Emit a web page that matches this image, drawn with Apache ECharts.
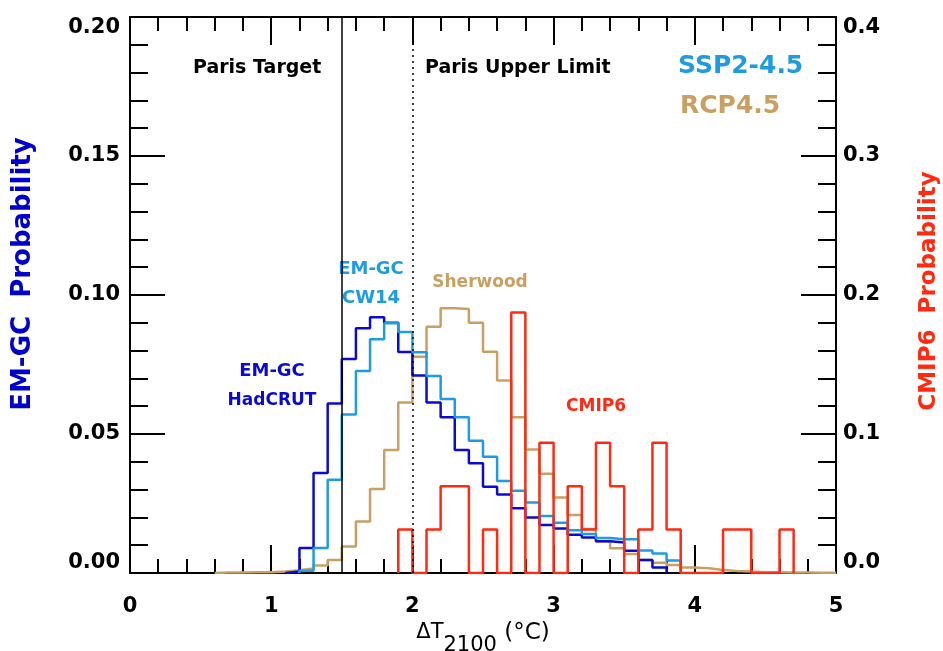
<!DOCTYPE html>
<html>
<head>
<meta charset="utf-8">
<script src="https://cdn.jsdelivr.net/npm/echarts@6/dist/echarts.min.js"></script>
<style>html,body{margin:0;padding:0;background:#fff}#c{width:943px;height:651px}</style>
</head>
<body>
<div id="c"></div>
<script>
// ---- data (bin width 0.1 °C; each array starts at the given bin start) ----
const binWidth = 0.1;
const hadcrutStart = 1.1;
const hadcrut = [0.0005, 0.009, 0.036, 0.061, 0.077, 0.088, 0.092, 0.090, 0.0795, 0.071, 0.0613, 0.056, 0.0442, 0.0395, 0.031, 0.0282, 0.0233, 0.020, 0.0173, 0.016, 0.0138, 0.0128, 0.0114, 0.011, 0.008, 0.0047, 0.002];
const cw14Start = 1.2;
const cw14 = [0.0008, 0.009, 0.0335, 0.057, 0.0727, 0.0841, 0.0898, 0.0867, 0.0794, 0.0709, 0.0626, 0.056, 0.0476, 0.0418, 0.0331, 0.0296, 0.0254, 0.0205, 0.0181, 0.0154, 0.014, 0.0126, 0.0121, 0.0121, 0.0081, 0.007, 0.0045];
const sherwoodStart = 0.6;
const sherwood = [0.0002, 0.0002, 0.0003, 0.0003, 0.0005, 0.001, 0.0016, 0.0027, 0.0047, 0.0095, 0.0185, 0.0302, 0.0442, 0.0613, 0.0778, 0.0886, 0.0952, 0.095, 0.090, 0.0796, 0.0692, 0.056, 0.0444, 0.0357, 0.0272, 0.0209, 0.0158, 0.0113, 0.0089, 0.0068, 0.0047, 0.0037, 0.0029, 0.002, 0.0017, 0.0011, 0.0007, 0.0005, 0.0003, 0.0003, 0.0002, 0.0002, 0.0001, 0.0001];
const cmip6Start = 1.9;
const cmip6 = [0.03125, 0, 0.03125, 0.0625, 0.0625, 0, 0.03125, 0, 0.1875, 0, 0.09375, 0, 0.0625, 0.03125, 0.09375, 0.0625, 0, 0.03125, 0.09375, 0.03125, 0, 0, 0, 0.03125, 0.03125, 0, 0, 0.03125];
const parisTarget = 1.5;
const parisUpper = 2.0;

const C_DARK = '#0A0AD2', C_LIGHT = '#1E9BE3', C_TAN = '#C8A062', C_RED = '#FF2A10';
const FONT = 'DejaVu Sans';

function stepPoints(start, vals) {
  const pts = [[start, 0]];
  vals.forEach((v, i) => {
    const x0 = +(start + i * binWidth).toFixed(3);
    const x1 = +(x0 + binWidth).toFixed(3);
    pts.push([x0, v], [x1, v]);
  });
  pts.push([+(start + vals.length * binWidth).toFixed(3), 0]);
  return pts;
}

const chart = echarts.init(document.getElementById('c'), null, {renderer: 'canvas'});

const axisLine = {show: true, onZero: false, lineStyle: {color: '#000', width: 2}};
const lbl = {color: '#000', fontFamily: FONT, fontWeight: 'bold', fontSize: 21};

function lineSeries(name, data, color, yIdx, extra) {
  return Object.assign({
    name, type: 'line', data, xAxisIndex: 0, yAxisIndex: yIdx,
    showSymbol: false, symbol: 'none', silent: true,
    lineStyle: {color, width: 2.5}, clip: true
  }, extra || {});
}

const option = {
  animation: false,
  backgroundColor: '#fff',
  grid: {left: 130, right: 107, top: 17, bottom: 78, containLabel: false, outerBoundsMode: 'none'},
  xAxis: [
    {
      type: 'value', min: 0, max: 5, interval: 1, position: 'bottom',
      axisLine,
      axisTick: {show: true, inside: true, length: 28, lineStyle: {color: '#000', width: 2}},
      minorTick: {show: true, splitNumber: 5, length: 14, lineStyle: {color: '#000', width: 2}},
      splitLine: {show: false}, minorSplitLine: {show: false},
      axisLabel: Object.assign({margin: 23, formatter: v => String(v)}, lbl),
      name: '{a|ΔT}{s|2100}{b| (°C)}',
      nameLocation: 'middle', nameGap: 46,
      nameTextStyle: {
        color: '#000', fontFamily: FONT, fontSize: 21,
        rich: {
          a: {fontFamily: FONT, fontSize: 21, color: '#000', lineHeight: 22, verticalAlign: 'top'},
          b: {fontFamily: FONT, fontSize: 23, color: '#000', lineHeight: 22, verticalAlign: 'top'},
          s: {fontFamily: FONT, fontSize: 21, color: '#000', lineHeight: 34, verticalAlign: 'bottom'}
        }
      }
    },
    {
      type: 'value', min: 0, max: 5, interval: 1, position: 'top',
      axisLine,
      axisTick: {show: true, inside: true, length: 28, lineStyle: {color: '#000', width: 2}},
      minorTick: {show: true, splitNumber: 5, length: 14, lineStyle: {color: '#000', width: 2}},
      splitLine: {show: false}, axisLabel: {show: false}
    }
  ],
  yAxis: [
    {
      type: 'value', min: 0, max: 0.2, interval: 0.05, position: 'left',
      axisLine,
      axisTick: {show: true, inside: true, length: 35, lineStyle: {color: '#000', width: 2}},
      minorTick: {show: true, splitNumber: 5, length: 18, lineStyle: {color: '#000', width: 2}},
      splitLine: {show: false},
      axisLabel: Object.assign({margin: 10, formatter: v => v.toFixed(2),
        verticalAlignMinLabel: 'bottom', verticalAlignMaxLabel: 'top'}, lbl)
    },
    {
      type: 'value', min: 0, max: 0.4, interval: 0.1, position: 'right',
      axisLine,
      axisTick: {show: true, inside: true, length: 35, lineStyle: {color: '#000', width: 2}},
      minorTick: {show: true, splitNumber: 5, length: 18, lineStyle: {color: '#000', width: 2}},
      splitLine: {show: false},
      axisLabel: Object.assign({margin: 7, formatter: v => v.toFixed(1),
        verticalAlignMinLabel: 'bottom', verticalAlignMaxLabel: 'top'}, lbl)
    }
  ],
  series: [
    lineSeries('Sherwood', stepPoints(sherwoodStart, sherwood), C_TAN, 0, {
      markLine: {
        silent: true, symbol: 'none', label: {show: false},
        data: [
          {xAxis: parisTarget, lineStyle: {color: '#000', width: 1.5, type: 'solid'}},
          {xAxis: parisUpper, lineStyle: {color: '#000', width: 1.5, type: [2, 4]}}
        ]
      }
    }),
    lineSeries('HadCRUT', stepPoints(hadcrutStart, hadcrut), C_DARK, 0),
    lineSeries('CW14', stepPoints(cw14Start, cw14), C_LIGHT, 0),
    lineSeries('CMIP6', stepPoints(cmip6Start, cmip6), C_RED, 1)
  ],
  graphic: [
    {type: 'text', x: 23, y: 274, rotation: Math.PI / 2, style: {text: 'EM-GC  Probability', fill: '#0000CC', font: 'bold 26px "DejaVu Sans"', align: 'center', verticalAlign: 'middle'}},
    {type: 'text', x: 929, y: 291, rotation: Math.PI / 2, style: {text: 'CMIP6  Probability', fill: C_RED, font: 'bold 23px "DejaVu Sans"', align: 'center', verticalAlign: 'middle'}},
    {type: 'text', left: 193, top: 59, style: {text: 'Paris Target', fill: '#000', font: 'bold 19px "DejaVu Sans"'}},
    {type: 'text', left: 425, top: 59, style: {text: 'Paris Upper Limit', fill: '#000', font: 'bold 19px "DejaVu Sans"'}},
    {type: 'text', left: 678, top: 54, style: {text: 'SSP2-4.5', fill: C_LIGHT, font: 'bold 25px "DejaVu Sans"'}},
    {type: 'text', left: 680, top: 94, style: {text: 'RCP4.5', fill: C_TAN, font: 'bold 25px "DejaVu Sans"'}},
    {type: 'text', x: 371, y: 269, style: {text: 'EM-GC', fill: C_LIGHT, font: 'bold 18px "DejaVu Sans"', align: 'center', verticalAlign: 'middle'}},
    {type: 'text', x: 371, y: 298, style: {text: 'CW14', fill: C_LIGHT, font: 'bold 18px "DejaVu Sans"', align: 'center', verticalAlign: 'middle'}},
    {type: 'text', x: 480, y: 283, style: {text: 'Sherwood', fill: C_TAN, font: 'bold 17px "DejaVu Sans"', align: 'center', verticalAlign: 'middle'}},
    {type: 'text', x: 272, y: 371, style: {text: 'EM-GC', fill: C_DARK, font: 'bold 18px "DejaVu Sans"', align: 'center', verticalAlign: 'middle'}},
    {type: 'text', x: 272, y: 401, style: {text: 'HadCRUT', fill: C_DARK, font: 'bold 17px "DejaVu Sans"', align: 'center', verticalAlign: 'middle'}},
    {type: 'text', x: 596, y: 407, style: {text: 'CMIP6', fill: C_RED, font: 'bold 17px "DejaVu Sans"', align: 'center', verticalAlign: 'middle'}}
  ]
};
chart.setOption(option);
</script>
</body>
</html>
